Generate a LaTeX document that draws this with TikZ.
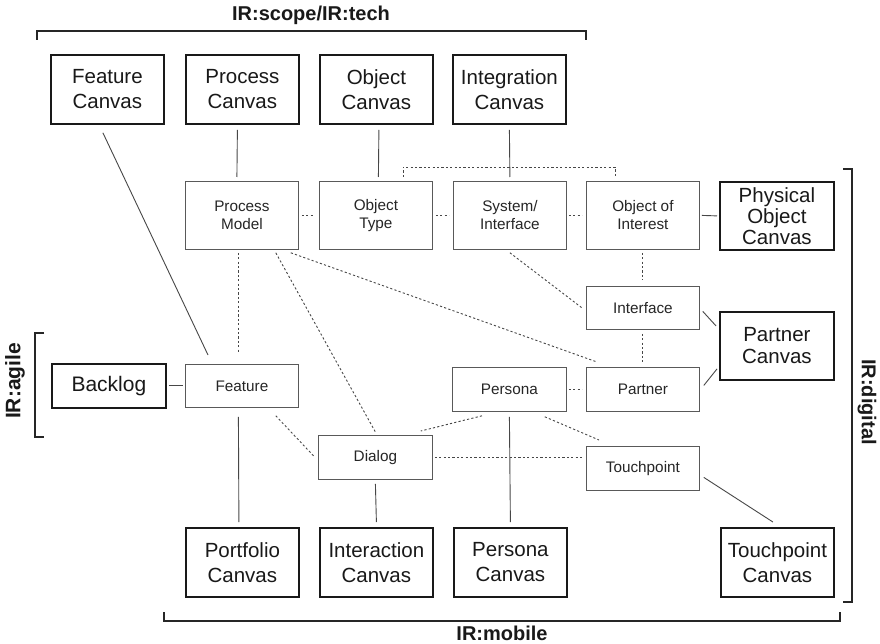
\documentclass[tikz,border=0pt]{standalone}
\usepackage{fontspec}
\setmainfont{Liberation Sans}
\usetikzlibrary{calc}
\begin{document}
\begin{tikzpicture}[x=1pt,y=-1pt]
\tikzset{
  canvas/.style={draw=black!90, line width=1.8pt, align=center, inner sep=0pt,
    minimum width=113pt, minimum height=69pt, anchor=north west, text=black!90,
    font=\fontsize{20.5pt}{25pt}\selectfont},
  item/.style={draw=black!65, line width=0.8pt, align=center, inner sep=0pt,
    minimum width=113pt, minimum height=44pt, anchor=north west, text=black!85,
    font=\fontsize{15.3pt}{18pt}\selectfont},
  solidline/.style={draw=black!72, line width=0.9pt},
  dotline/.style={draw=black!72, line width=0.9pt, dash pattern=on 2.2pt off 2.2pt},
  brack/.style={draw=black!85, line width=1.3pt},
  tag/.style={text=black!90, font=\fontsize{20pt}{20pt}\selectfont\bfseries},
}
% page frame
\fill[white] (0,0) rectangle (880,644);
\useasboundingbox (0,0) rectangle (880,644);

% canvases, top row
\node[canvas] (fc) at (50,54)  {Feature\\Canvas};
\node[canvas] (pc) at (185,54) {Process\\Canvas};
\node[canvas] (oc) at (319,54) {Object\\Canvas};
\node[canvas] (ic) at (452,54) {Integration\\Canvas};

% model elements
\node[item, minimum height=68pt] (pm) at (185,181) {Process\\Model};
\node[item, minimum height=68pt] (ot) at (319,181) {Object\\Type};
\node[item, minimum height=68pt] (si) at (453,181) {System/\\Interface};
\node[item, minimum height=68pt] (oi) at (586,181) {Object of\\Interest};
\node[canvas, minimum width=114pt, minimum height=68pt,
      font=\fontsize{20.5pt}{21pt}\selectfont] (poc) at (719,181) {Physical\\Object\\Canvas};

\node[item, minimum height=43pt] (intf) at (586,286) {Interface};
\node[canvas, minimum width=114pt, minimum height=68pt,
      font=\fontsize{20.5pt}{22pt}\selectfont] (pcv) at (719,311) {Partner\\Canvas};

\node[canvas, minimum width=114pt, minimum height=44pt,
      font=\fontsize{21pt}{22pt}\selectfont] (bl) at (51,363) {Backlog};
\node[item, minimum height=43pt] (feat) at (185,364) {Feature};
\node[item, minimum width=114pt] (pers) at (452,367) {Persona};
\node[item] (part) at (586,367) {Partner};
\node[item, minimum width=114pt] (dia) at (318,435) {Dialog};
\node[item] (tp) at (586,446) {Touchpoint};

% canvases, bottom row
\node[canvas] (pfc) at (185,527) {Portfolio\\Canvas};
\node[canvas] (inc) at (319,527) {Interaction\\Canvas};
\node[canvas] (psc) at (453,527) {Persona\\Canvas};
\node[canvas] (tpc) at (720,527) {Touchpoint\\Canvas};

% solid connectors
\draw[solidline] ([xshift=-4.5,yshift=-8]fc.south) -- ([xshift=23,yshift=9]feat.north west);
\draw[solidline] ([xshift=-5,yshift=-5]pc.south) -- ([xshift=-5,yshift=4]pm.north);
\draw[solidline] ([xshift=2.5,yshift=-5]oc.south) -- ([xshift=2.5,yshift=4]ot.north);
\draw[solidline] ([yshift=-5]ic.south) -- ([yshift=4]si.north);
\draw[solidline] ([xshift=2]oi.east) -- ([xshift=-2]poc.west);
\draw[solidline] ([xshift=3,yshift=-3.5]intf.east) -- ([xshift=-3,yshift=20]pcv.west);
\draw[solidline] ([xshift=4,yshift=4]part.east) -- ([xshift=-2,yshift=-23]pcv.west);
\draw[solidline] ([xshift=2]bl.east) -- ([xshift=-2]feat.west);
\draw[solidline] ([xshift=-3.5,yshift=-9]feat.south) -- ([xshift=-3.5,yshift=5]pfc.north);
\draw[solidline] ([yshift=-4]dia.south) -- ([yshift=5]inc.north);
\draw[solidline] ([yshift=-5]pers.south) -- ([yshift=5]psc.north);
\draw[solidline] ([xshift=4,yshift=-9]tp.east) -- ([xshift=-4.5,yshift=5]tpc.north);

% dotted connectors
\draw[dotline] ([xshift=3]pm.east) -- ([xshift=-6]ot.west);
\draw[dotline] ([xshift=3]ot.east) -- ([xshift=-4]si.west);
\draw[dotline] ([xshift=2]si.east) -- ([xshift=-4]oi.west);
\draw[dotline] ($(ot.north west)+(84,-4)$) -- ($(ot.north west)+(84,-14)$)
               -| ($(oi.north west)+(29,-4)$);
\draw[dotline] ([xshift=-3.5,yshift=-3]pm.south) -- ([xshift=-3.5,yshift=11]feat.north);
\draw[dotline] ([xshift=-23,yshift=-3]pm.south east) -- ([yshift=3]dia.north);
\draw[dotline] ([xshift=-8,yshift=-3]pm.south east) -- ([xshift=11,yshift=5]part.north west);
\draw[dotline] ([yshift=-3]si.south) -- ([xshift=-4]intf.west);
\draw[dotline] ([yshift=-3]oi.south) -- ([yshift=6]intf.north);
\draw[dotline] ([yshift=-4]intf.south) -- ([yshift=5]part.north);
\draw[dotline] ([xshift=2]pers.east) -- ([xshift=-4]part.west);
\draw[dotline] ([xshift=-23,yshift=-8]feat.south east) -- ([xshift=-3]dia.west);
\draw[dotline] ([xshift=30,yshift=-4]pers.south west) -- ([xshift=-12,yshift=4]dia.north east);
\draw[dotline] ([xshift=-22,yshift=-5]pers.south east) -- ([xshift=13,yshift=6]tp.north west);
\draw[dotline, shorten <=2pt, shorten >=3pt] (dia.east) -- (dia.east -| tp.west);

% scope brackets and their labels
\draw[brack] (37,40) -- (37,31) -- (586,31) -- (586,40);
\node[tag] (ltech) at (311,15) {IR:scope/IR:tech};
\draw[brack] (44,333) -- (35,333) -- (35,437) -- (44,437);
\node[tag, rotate=90, font=\fontsize{21pt}{21pt}\selectfont\bfseries] (lagile) at (15,381) {IR:agile};
\draw[brack] (843,169) -- (852,169) -- (852,602) -- (843,602);
\node[tag, rotate=-90] (ldigital) at (867,402) {IR:digital};
\draw[brack] (164,612) -- (164,621) -- (840,621) -- (840,612);
\node[tag] (lmobile) at (502,633) {IR:mobile};
\end{tikzpicture}
\end{document}
